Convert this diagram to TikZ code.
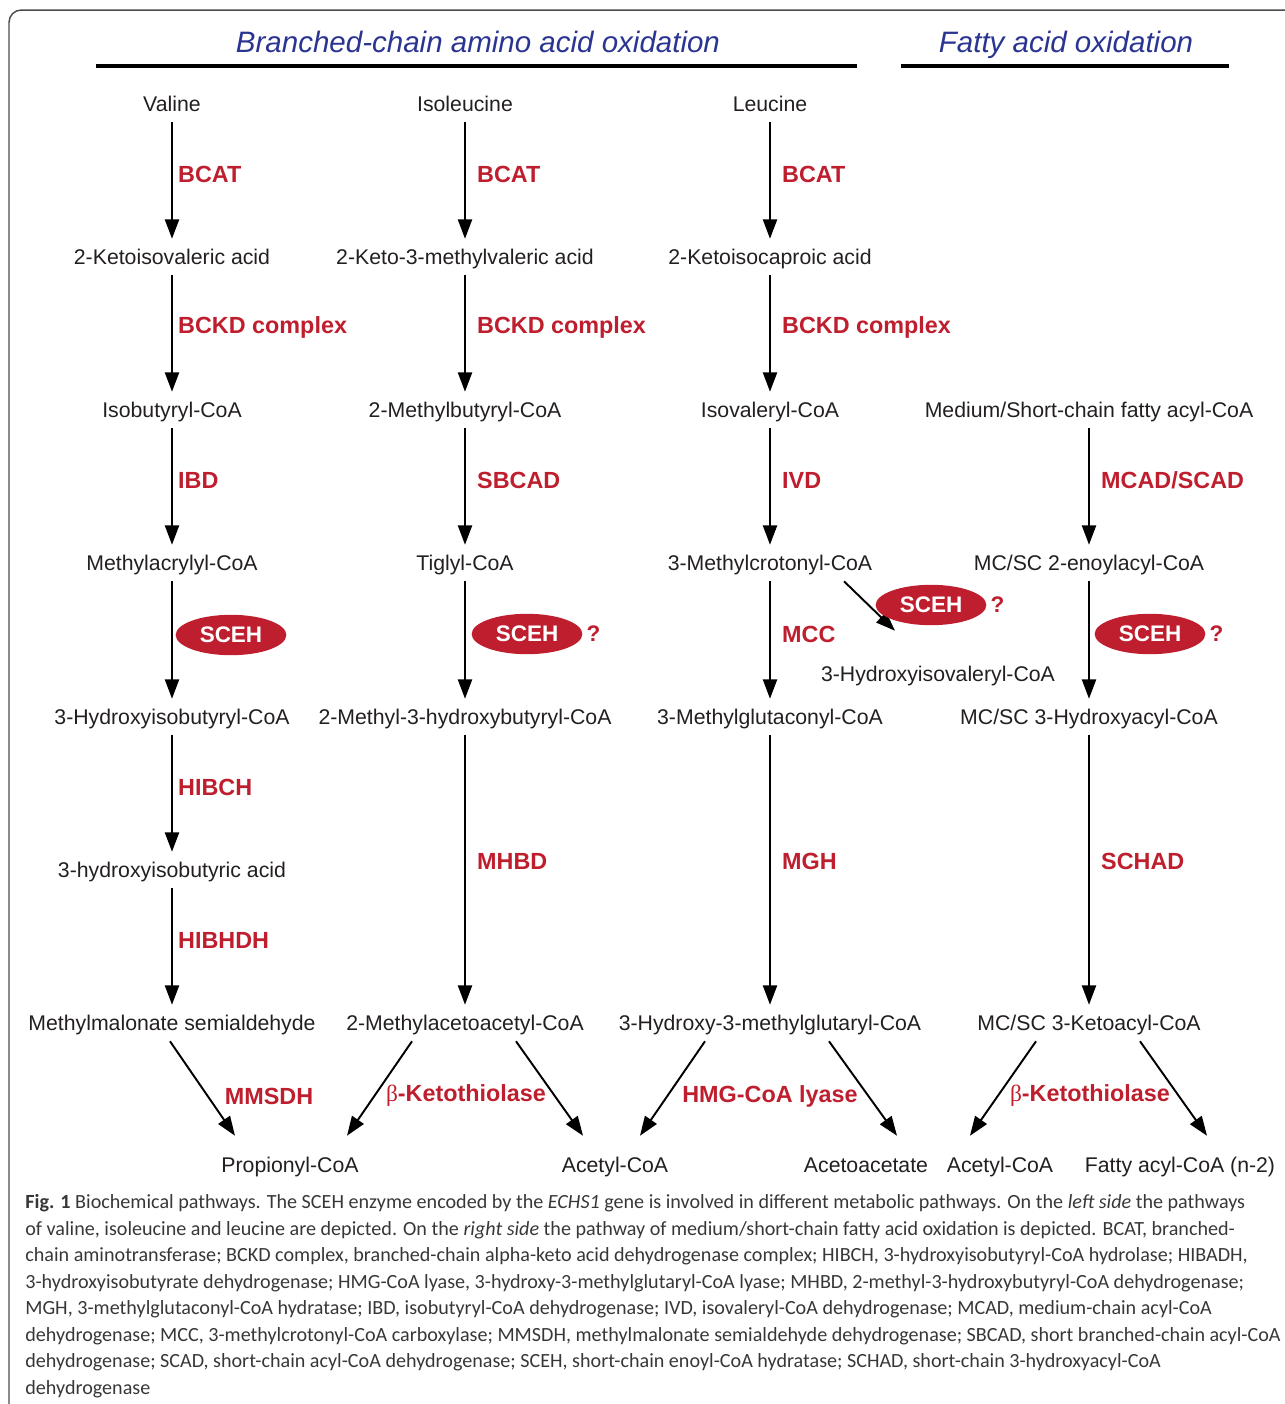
\documentclass[tikz,border=0pt]{standalone}
\usepackage{fontspec}
\setmainfont{Liberation Sans}
\newfontfamily\capfont{Carlito}
\newfontfamily\grk{Liberation Serif}
\usetikzlibrary{arrows.meta,shapes.geometric,positioning}

\definecolor{enzred}{RGB}{190,30,45}
\definecolor{ttlblue}{RGB}{42,52,145}
\definecolor{ink}{RGB}{35,31,32}
\definecolor{capgray}{RGB}{55,55,55}

\tikzset{
  met/.style={text height=9.6pt, text depth=1.6pt, inner sep=4.6pt,
    font=\fontsize{12.1}{14}\selectfont, text=ink},
  enz/.style={pos=.45, anchor=west, xshift=5.4pt, inner sep=1pt, text=enzred,
    font=\fontsize{13.3}{15}\selectfont\bfseries},
  enzc/.style={inner sep=1pt, text=enzred, font=\fontsize{13.3}{15}\selectfont\bfseries},
  rxn/.style={-{Triangle[length=11pt,width=8pt]}, line width=1.1pt, draw=black},
  sceh/.style={ellipse, fill=enzred, text=white, inner sep=0pt,
    minimum width=63pt, minimum height=23pt,
    font=\fontsize{12.8}{15}\selectfont\bfseries},
  qm/.style={inner sep=1pt, text=enzred, font=\fontsize{12.8}{15}\selectfont\bfseries},
  ttl/.style={text height=12pt, text depth=3.5pt, text=ttlblue,
    font=\fontsize{16.8}{20}\selectfont\itshape},
  rule/.style={line width=2.3pt},
}

\begin{document}
\begin{tikzpicture}[x=0.02cm, y=-0.02cm]
\useasboundingbox (0,0) rectangle (1285,1404);
\clip (0,0) rectangle (1285,1404);
\draw [rounded corners=7pt, line width=0.85pt, draw=black!70] (9,10) rectangle (1320,1440);

% titles
\node[ttl] (bcaa) at (478,45) {Branched-chain amino acid oxidation};
\node[ttl] (fao) at (1066,45) {Fatty acid oxidation};
\draw[rule] (96,66) -- (857,66);
\draw[rule] (901,66) -- (1229,66);

% valine
\node[met] (val) at (172,104) {Valine};
\node[met] (kiv) at (172,257) {2-Ketoisovaleric acid};
\node[met] (ibc) at (172,410) {Isobutyryl-CoA};
\node[met] (macr) at (172,563) {Methylacrylyl-CoA};
\node[met] (hibc) at (172,717) {3-Hydroxyisobutyryl-CoA};
\node[met] (hiba) at (172,870) {3-hydroxyisobutyric acid};
\node[met] (mms) at (172,1023) {Methylmalonate semialdehyde};

% isoleucine
\node[met] (ile) at (465,104) {Isoleucine};
\node[met] (kmv) at (465,257) {2-Keto-3-methylvaleric acid};
\node[met] (mbc) at (465,410) {2-Methylbutyryl-CoA};
\node[met] (tig) at (465,563) {Tiglyl-CoA};
\node[met] (mhb) at (465,717) {2-Methyl-3-hydroxybutyryl-CoA};
\node[met] (maa) at (465,1023) {2-Methylacetoacetyl-CoA};

% leucine
\node[met] (leu) at (770,104) {Leucine};
\node[met] (kic) at (770,257) {2-Ketoisocaproic acid};
\node[met] (ivc) at (770,410) {Isovaleryl-CoA};
\node[met] (mcr) at (770,563) {3-Methylcrotonyl-CoA};
\node[met] (hiv) at (938,674) {3-Hydroxyisovaleryl-CoA};
\node[met] (mgc) at (770,717) {3-Methylglutaconyl-CoA};
\node[met] (hmg) at (770,1023) {3-Hydroxy-3-methylglutaryl-CoA};

% fatty acids
\node[met] (fa) at (1089,410) {Medium/Short-chain fatty acyl-CoA};
\node[met] (eno) at (1089,563) {MC/SC 2-enoylacyl-CoA};
\node[met] (hac) at (1089,717) {MC/SC 3-Hydroxyacyl-CoA};
\node[met] (kac) at (1089,1023) {MC/SC 3-Ketoacyl-CoA};

% end products
\node[met] (prop) at (290,1165) {Propionyl-CoA};
\node[met] (acoa1) at (615,1165) {Acetyl-CoA};
\node[met] (acac) at (866,1165) {Acetoacetate};
\node[met] (acoa2) at (1000,1165) {Acetyl-CoA};
\node[met] (fan) at (1180,1165) {Fatty acyl-CoA (n-2)};

\draw[rxn] (val) -- (kiv) node[enz, xshift=-3.4pt] {BCAT};
\draw[rxn] (kiv) -- (ibc) node[enz, xshift=-3.4pt] {BCKD complex};
\draw[rxn] (ibc) -- (macr) node[enz, xshift=-3.4pt] {IBD};
\draw[rxn] (macr) -- (hibc);
\draw[rxn] (hibc) -- (hiba) node[enz, xshift=-3.4pt] {HIBCH};
\draw[rxn] (hiba) -- (mms) node[enz, xshift=-3.4pt] {HIBHDH};

\draw[rxn] (ile) -- (kmv) node[enz] {BCAT};
\draw[rxn] (kmv) -- (mbc) node[enz] {BCKD complex};
\draw[rxn] (mbc) -- (tig) node[enz] {SBCAD};
\draw[rxn] (tig) -- (mhb);
\draw[rxn] (mhb) -- (maa) node[enz, pos=.47] {MHBD};

\draw[rxn] (leu) -- (kic) node[enz] {BCAT};
\draw[rxn] (kic) -- (ivc) node[enz] {BCKD complex};
\draw[rxn] (ivc) -- (mcr) node[enz] {IVD};
\draw[rxn] (mcr) -- (mgc) node[enz] {MCC};
\draw[rxn] ([shift={(74,0)}]mcr.south) -- ([shift={(-43,-25)}]hiv.north);
\draw[rxn] (mgc) -- (hmg) node[enz, pos=.47] {MGH};

\draw[rxn] (fa) -- (eno) node[enz] {MCAD/SCAD};
\draw[rxn] (eno) -- (hac);
\draw[rxn] (hac) -- (kac) node[enz, pos=.47] {SCHAD};

\draw[rxn] ([shift={(-2,0)}]mms.south) -- ([shift={(-55,-11)}]prop.north);
\draw[rxn] ([shift={(-53,0)}]maa.south) -- ([shift={(57,-11)}]prop.north);
\draw[rxn] ([shift={(51,0)}]maa.south) -- ([shift={(-32,-11)}]acoa1.north);
\draw[rxn] ([shift={(-65,0)}]hmg.south) -- ([shift={(25,-11)}]acoa1.north);
\draw[rxn] ([shift={(59,0)}]hmg.south) -- ([shift={(31,-11)}]acac.north);
\draw[rxn] ([shift={(-53,0)}]kac.south) -- ([shift={(-30,-11)}]acoa2.north);
\draw[rxn] ([shift={(51,0)}]kac.south) -- ([shift={(27,-11)}]fan.north);

\node[enzc] (mmsdh) at (269,1096) {MMSDH};
\node[enzc] (kt1) at (466,1096) {{\grk\mdseries β}-Ketothiolase};
\node[enzc] (hmgl) at (770,1096) {HMG-CoA lyase};
\node[enzc] (kt2) at (1090,1096) {{\grk\mdseries β}-Ketothiolase};

% SCEH
\node[sceh] (sceh1) at (231,635) {SCEH};
\node[sceh] (sceh2) at (527,634) {SCEH};
\node[qm, right=1pt of sceh2] (q2) {?};
\node[sceh] (sceh3) at (931,605) {SCEH};
\node[qm, right=1pt of sceh3] (q3) {?};
\node[sceh] (sceh4) at (1150,634) {SCEH};
\node[qm, right=1pt of sceh4] (q4) {?};

% caption
\node[anchor=north west, inner sep=0pt, align=left, text=capgray,
  font=\capfont\fontsize{11.45}{15.1}\selectfont] (cap) at (25,1194)
{\textbf{Fig. 1} Biochemical pathways. The SCEH enzyme encoded by the \textit{ECHS1} gene is involved in different metabolic pathways. On the \textit{left side} the pathways\\
of valine, isoleucine and leucine are depicted. On the \textit{right side} the pathway of medium/short-chain fatty acid oxidation is depicted. BCAT, branched-\\
chain aminotransferase; BCKD complex, branched-chain alpha-keto acid dehydrogenase complex; HIBCH, 3-hydroxyisobutyryl-CoA hydrolase; HIBADH,\\
3-hydroxyisobutyrate dehydrogenase; HMG-CoA lyase, 3-hydroxy-3-methylglutaryl-CoA lyase; MHBD, 2-methyl-3-hydroxybutyryl-CoA dehydrogenase;\\
MGH, 3-methylglutaconyl-CoA hydratase; IBD, isobutyryl-CoA dehydrogenase; IVD, isovaleryl-CoA dehydrogenase; MCAD, medium-chain acyl-CoA\\
dehydrogenase; MCC, 3-methylcrotonyl-CoA carboxylase; MMSDH, methylmalonate semialdehyde dehydrogenase; SBCAD, short branched-chain acyl-CoA\\
dehydrogenase; SCAD, short-chain acyl-CoA dehydrogenase; SCEH, short-chain enoyl-CoA hydratase; SCHAD, short-chain 3-hydroxyacyl-CoA\\
dehydrogenase};
\end{tikzpicture}
\end{document}
